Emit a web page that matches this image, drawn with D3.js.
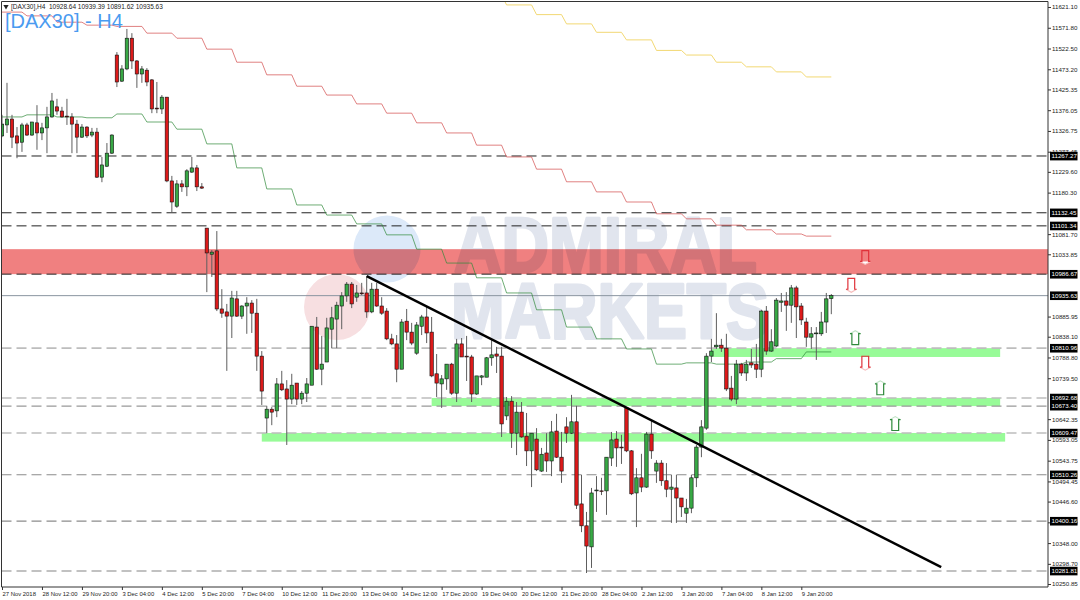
<!DOCTYPE html>
<html><head><meta charset="utf-8">
<style>
html,body{margin:0;padding:0;background:#fff;overflow:hidden}
svg{display:block}
text{font-family:"Liberation Sans",Arial,sans-serif}
.mult{mix-blend-mode:multiply}
</style>
<script src="https://cdn.jsdelivr.net/npm/d3@7"></script>
</head><body>
<svg id="c" width="1080" height="600"></svg>
<script>
const opens=[11315,11341,11355,11315,11300,11341,11317,11346,11322,11334,
11360,11384,11374,11362,11360,11343,11312,11336,11317,11324,
11217,11243,11274,11507,11445,11474,11547,11493,11462,11471,
11448,11381,11379,11407,11208,11148,11201,11194,11229,11239,
11194,11096,11034,11042,10904,10897,10887,10928,10887,10911,
10918,10894,10792,10645,10666,10662,10726,10714,10690,10728,
10690,10704,10723,10861,10761,10778,10856,10880,10911,10935,
10963,10932,10942,10942,10897,10951,10911,10899,10833,10821,
10761,10875,10849,10799,10863,10885,10849,10750,10726,10738,
10773,10704,10821,10792,10790,10702,10742,10742,10788,10797,
10792,10650,10685,10609,10659,10602,10567,10595,10519,10562,
10543,10614,10552,10624,10609,10636,10441,10389,10339,10472,
10472,10472,10550,10595,10576,10669,10567,10467,10503,10481,
10607,10519,10538,10496,10476,10479,10455,10419,10431,10503,
10576,10621,10792,10814,10818,10811,10716,10690,10773,10752,
10776,10773,10761,10899,10804,10816,10920,10923,10913,10954,
10911,10873,10837,10845,10845,10873,10928.64];
const closes=[11343,11355,11312,11298,11341,11317,11348,11322,11334,11360,
11398,11374,11360,11360,11343,11312,11336,11315,11324,11217,
11246,11274,11317,11443,11474,11547,11493,11462,11474,11443,
11379,11379,11407,11208,11158,11201,11194,11232,11239,11194,
11191,11037,11039,10904,10894,10887,10930,10887,10911,10918,
10894,10792,10709,10666,10659,10726,10712,10690,10723,10690,
10704,10726,10863,10761,10773,10859,10883,10913,10935,10963,
10916,10942,10940,10897,10951,10911,10894,10833,10821,10761,
10873,10849,10823,10866,10885,10847,10745,10728,10738,10773,
10704,10821,10790,10790,10702,10745,10745,10788,10795,10792,
10631,10685,10609,10659,10600,10567,10609,10522,10559,10543,
10612,10552,10519,10609,10636,10438,10389,10341,10467,10474,
10471,10552,10593,10574,10574,10567,10465,10503,10481,10607,
10567,10538,10496,10476,10481,10455,10434,10431,10503,10576,
10624,10792,10804,10818,10811,10714,10690,10773,10752,10773,
10771,10761,10899,10804,10826,10925,10923,10913,10954,10909,
10878,10837,10845,10847,10873,10928,10935.63];
const highs=[11365,11441,11365,11336,11346,11346,11348,11388,11346,11384,
11417,11403,11384,11403,11369,11353,11343,11338,11334,11334,
11265,11298,11319,11514,11483,11569,11559,11495,11481,11476,
11450,11443,11412,11407,11220,11210,11210,11236,11265,11246,
11203,11096,11044,11089,10951,10916,10947,10947,10913,10932,
10925,10928,10804,10674,10671,10740,10757,10735,10750,10728,
10709,10740,10863,10885,10840,10883,10909,10921,10944,10968,
10968,10961,10966,10982,10966,10966,10932,10906,10845,10842,
10880,10904,10871,10873,10890,10909,10885,10797,10747,10773,
10776,10833,10835,10840,10795,10745,10747,10790,10830,10814,
10814,10695,10697,10683,10683,10657,10609,10621,10574,10609,
10638,10655,10612,10647,10700,10674,10510,10422,10479,10507,
10503,10552,10612,10614,10605,10671,10569,10526,10560,10612,
10638,10545,10545,10538,10510,10510,10455,10453,10510,10581,
10640,10799,10833,10894,10833,10845,10745,10783,10776,10783,
10809,10821,10902,10911,10856,10930,10942,10944,10961,10959,
10918,10883,10861,10861,10897,10942,10939.39];
const lows=[11312,11322,11286,11262,11277,11315,11315,11282,11305,11274,
11358,11365,11358,11341,11274,11274,11310,11310,11312,11215,
11205,11241,11272,11431,11443,11471,11474,11429,11441,11433,
11369,11369,11367,11205,11134,11144,11182,11172,11227,11184,
11189,10944,10980,10899,10883,10757,10835,10885,10880,10845,
10847,10757,10676,10609,10628,10647,10709,10581,10678,10676,
10678,10683,10723,10759,10723,10778,10811,10811,10856,10921,
10906,10921,10937,10883,10894,10909,10890,10830,10818,10730,
10761,10830,10818,10795,10842,10823,10742,10695,10669,10712,
10700,10683,10790,10733,10683,10700,10723,10742,10769,10752,
10600,10640,10574,10557,10598,10531,10481,10519,10517,10517,
10507,10550,10491,10586,10607,10429,10374,10277,10289,10422,
10462,10415,10531,10529,10536,10564,10462,10386,10469,10479,
10548,10491,10484,10457,10396,10396,10410,10396,10419,10481,
10552,10617,10778,10809,10802,10709,10685,10678,10745,10733,
10764,10740,10742,10795,10802,10814,10897,10852,10871,10835,
10866,10814,10809,10783,10840,10847,10891.62];

// daily-timeframe envelope values, one per session starting at session -1
const redLevels=[11609,11600,11585,11578,11575,11559,11547,11521,11490,11460,11433,11412,11391,11369,11346,11322,11293,11265,11236,11206,11182,11158,11130,11118,11103,11092,11082,11077];
const greenLevels=[11360,11365,11360,11358,11367,11348,11331,11296,11239,11189,11151,11127,11106,11080,11046,11013,10978,10942,10902,10861,10833,10809,10773,10776,10773,10778,10786,10802];
const yellowFirstSession=15;
const yellowLevels=[11650,11626,11603,11581,11561,11543,11518,11507,11490,11479,11467,11455];

const blackLevels=[11267.27,11132.45,11101.34,10986.67];
const greyLevels=[10810.96,10692.68,10673.40,10609.47,10510.26,10400.16,10281.81];
const greyShades=["#bdbdbd","#bdbdbd","#999","#bdbdbd","#8c8c8c","#8c8c8c","#adadad"];
const greyWidths=[1.6,1.6,1.2,1.6,1.1,1.1,1.4];
const lastPrice=10935.63;

const redZone={top:11046,bottom:10986.67};
const greenZoneFrom=[142,86,52], greenZoneTo=[199.8,199.8,200.8];
const greenZoneTop=[10810.96,10692.68,10609.47], greenZoneBottom=[10790,10673.4,10589];

const trendBars=[73,188], trendPrices=[10982,10291];

const arrowBars=[172.8,170,172.8,170.8,175.8,178.8];
const arrowPrices=[11027,10961,10776,10835,10716,10631];
const arrowDirs=["down","down","down","up","up","up"];

const priceTicks=[11621.10,11571.80,11522.50,11473.20,11425.35,11376.05,11326.75,11277.45,11229.60,11180.30,11081.70,11033.85,10885.95,10838.10,10788.80,10739.50,10642.35,10593.05,10543.75,10494.45,10446.60,10397.30,10348.00,10298.70,10250.85];
const timeLabels=["27 Nov 2018","28 Nov 12:00","29 Nov 20:00","3 Dec 04:00","4 Dec 12:00","5 Dec 20:00","7 Dec 04:00","10 Dec 12:00","11 Dec 20:00","13 Dec 04:00","14 Dec 12:00","17 Dec 20:00","19 Dec 04:00","20 Dec 12:00","21 Dec 20:00","28 Dec 04:00","2 Jan 12:00","3 Jan 20:00","7 Jan 04:00","8 Jan 12:00","9 Jan 20:00"];
const timeTicks=timeLabels.map((d,i)=>i*8);

const titleText="[DAX30] - H4";
const headerText="[DAX30],H4  10928.64 10939.39 10891.62 10935.63";
const wmTop="ADMIRAL", wmBottom="MARKETS";

const L=1.5,R=1048,T=1.5,B=587;
const x=d3.scaleLinear().domain([0,166]).range([2,831.3]);
const y=d3.scaleLinear().domain([10250.85,11621.10]).range([584,7]);
const svg=d3.select("#c");
svg.append("defs").append("clipPath").attr("id","plot").append("rect")
  .attr("x",L).attr("y",T).attr("width",R-L).attr("height",B-T);
const g=svg.append("g").attr("clip-path","url(#plot)");

// red resistance zone
g.append("rect").attr("x",L).attr("width",R-L)
  .attr("y",y(redZone.top)).attr("height",y(redZone.bottom)-y(redZone.top))
  .attr("fill","#f08080");

// watermark
const wm=g.append("g").attr("class","mult");
wm.append("circle").attr("cx",387).attr("cy",249).attr("r",33.5).attr("fill","#dce9f9");
wm.append("circle").attr("cx",337).attr("cy",307).attr("r",33).attr("fill","#f7dfe1");
[[wmTop,454,272,303],[wmBottom,451,338,318]].forEach(([t,px,py,w])=>{
  wm.append("text").text(t).attr("x",px).attr("y",py).attr("font-size",77).attr("font-weight",700)
    .attr("textLength",w).attr("lengthAdjust","spacingAndGlyphs").attr("fill","#e1e5ee")
    .attr("stroke","#e1e5ee").attr("stroke-width",3).attr("stroke-linejoin","round");
});

// green zones
g.selectAll(".gz").data(greenZoneFrom).join("rect").attr("class","gz")
  .attr("x",d=>x(d)).attr("width",(d,i)=>x(greenZoneTo[i])-x(d))
  .attr("y",(d,i)=>y(greenZoneTop[i])).attr("height",(d,i)=>y(greenZoneBottom[i])-y(greenZoneTop[i]))
  .attr("fill","#98fb98");

// levels
g.selectAll(".bl").data(blackLevels).join("line").attr("class","bl")
  .attr("x1",L).attr("x2",R).attr("y1",d=>y(d)).attr("y2",d=>y(d))
  .attr("stroke","#222").attr("stroke-width",1).attr("stroke-dasharray","10 5");
g.selectAll(".gl").data(greyLevels).join("line").attr("class","gl")
  .attr("x1",L).attr("x2",R).attr("y1",d=>y(d)).attr("y2",d=>y(d))
  .attr("stroke",(d,i)=>greyShades[i]).attr("stroke-width",(d,i)=>greyWidths[i]).attr("stroke-dasharray","10 5");
g.append("line").attr("x1",L).attr("x2",R).attr("y1",y(lastPrice)).attr("y2",y(lastPrice))
  .attr("stroke","#8a94a0").attr("stroke-width",1);

// stepped envelopes: each session lasts six bars
const stepLine=d3.line().x(d=>x(d[0])).y(d=>y(d[1]));
function steps(levels,firstSession){
  const pts=[];
  levels.forEach((v,k)=>{
    const s=5+6*(k+firstSession);
    pts.push([s,v],[s+5,v]);
  });
  return pts;
}
g.append("path").attr("d",stepLine(steps(redLevels,-1))).attr("fill","none").attr("stroke","#d24a4a").attr("stroke-width",0.7);
g.append("path").attr("d",stepLine(steps(greenLevels,-1))).attr("fill","none").attr("stroke","#2f8a3a").attr("stroke-width",0.7);
g.append("path").attr("d",stepLine(steps(yellowLevels,yellowFirstSession))).attr("fill","none").attr("stroke","#f2d873").attr("stroke-width",1);

// candles
const bars=d3.range(opens.length);
g.selectAll(".w").data(bars).join("line").attr("class","w")
  .attr("x1",i=>x(i)).attr("x2",i=>x(i)).attr("y1",i=>y(highs[i])).attr("y2",i=>y(lows[i]))
  .attr("stroke","#5e5e5e").attr("stroke-width",1);
g.selectAll(".b").data(bars).join("rect").attr("class","b")
  .attr("x",i=>x(i)-1.7).attr("width",3.4)
  .attr("y",i=>y(Math.max(opens[i],closes[i])))
  .attr("height",i=>Math.max(0.6,Math.abs(y(opens[i])-y(closes[i]))))
  .attr("fill",i=>closes[i]>=opens[i]?"#38a845":"#dc1a1a")
  .attr("stroke","#111").attr("stroke-width",0.6);

// trend line
g.append("line").attr("x1",x(trendBars[0])).attr("x2",x(trendBars[1]))
  .attr("y1",y(trendPrices[0])).attr("y2",y(trendPrices[1]))
  .attr("stroke","#000").attr("stroke-width",2.4);

// arrows
const ar=g.selectAll(".ar").data(arrowBars).join("g").attr("class","ar")
  .attr("transform",(d,i)=>`translate(${x(d)},${y(arrowPrices[i])}) scale(1,${arrowDirs[i]==="up"?-1:1})`);
ar.append("path").attr("d","M-5.3,4.3L0,7.3L5.3,4.3").attr("fill","#fff")
  .attr("stroke",(d,i)=>arrowDirs[i]==="up"?"#bfe3c4":"#f6bcbc").attr("stroke-width",1.1);
ar.append("path").attr("d","M-5.3,4.3L-3.4,4.3L-3.4,-6.6L3.4,-6.6L3.4,4.3L5.3,4.3").attr("fill","none")
  .attr("stroke",(d,i)=>arrowDirs[i]==="up"?"#2f8a3c":"#e0323a").attr("stroke-width",1.2);

// frame
const frame=svg.append("g").attr("stroke","#333").attr("stroke-width",1);
frame.append("line").attr("x1",L).attr("x2",R).attr("y1",T).attr("y2",T);
frame.append("line").attr("x1",L).attr("x2",L).attr("y1",T).attr("y2",B);
frame.append("line").attr("x1",R).attr("x2",R).attr("y1",T).attr("y2",B);
frame.append("line").attr("x1",L).attr("x2",R).attr("y1",B).attr("y2",B);

// price axis
const axR=svg.append("g").attr("transform",`translate(${R},0)`)
  .call(d3.axisRight(y).tickValues(priceTicks).tickSize(3).tickPadding(1).tickFormat(d3.format(".2f")));
axR.select(".domain").remove();
axR.selectAll("line").attr("stroke","#333");
axR.selectAll("text").attr("font-size",6.2).attr("fill","#222").attr("font-family","Liberation Sans");

// price tags
const tagged=[...blackLevels,lastPrice,...greyLevels];
const tags=svg.selectAll(".tag").data(tagged).join("g").attr("class","tag")
  .attr("transform",d=>`translate(${R+2},${y(d)})`);
tags.append("rect").attr("x",0).attr("y",-4.2).attr("width",27.5).attr("height",8.6).attr("fill","#000");
tags.append("text").text(d=>d.toFixed(2)).attr("x",1.5).attr("y",2.3).attr("font-size",6.2).attr("fill","#fff");

// time axis
const axB=svg.append("g").attr("transform",`translate(0,${B})`)
  .call(d3.axisBottom(x).tickValues(timeTicks).tickSize(3).tickFormat((d,i)=>timeLabels[i]));
axB.select(".domain").remove();
axB.selectAll("line").attr("stroke","#333");
axB.selectAll("text").attr("font-size",5.9).attr("fill","#222").attr("text-anchor","start")
  .attr("font-family","Liberation Sans").attr("dx",0).attr("dy",0).attr("y",8.5);

// header and title
svg.append("path").attr("d",d3.symbol(d3.symbolTriangle,12)()).attr("transform","translate(6,6.5) rotate(180)").attr("fill","#222");
svg.append("text").text(headerText).attr("x",11).attr("y",9).attr("font-size",6.5).attr("fill","#222").style("white-space","pre");
svg.append("text").text(titleText).attr("x",5).attr("y",28).attr("font-size",20).attr("fill","#4a9bf0");
</script>
</body></html>
